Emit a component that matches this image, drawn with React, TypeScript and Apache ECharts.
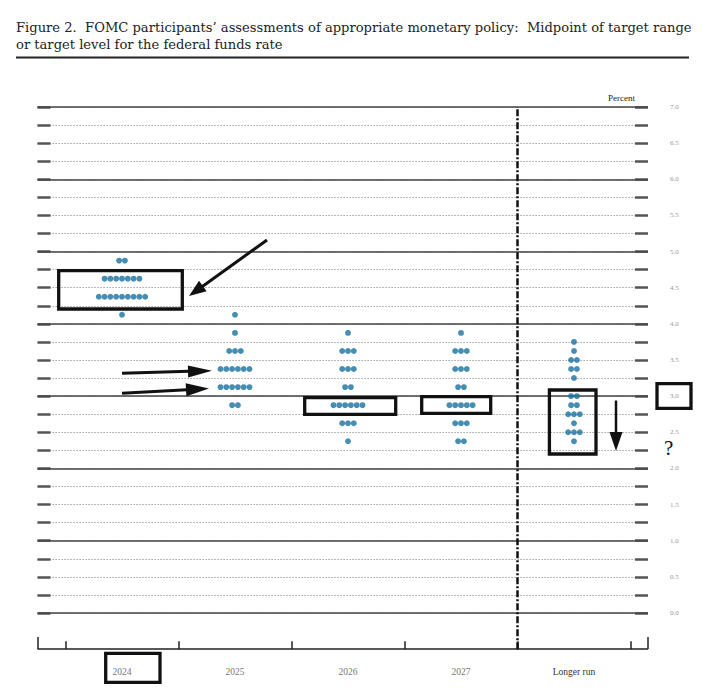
import React, { useEffect, useRef } from 'react';
import * as echarts from 'echarts';

// ---------- data ----------
const categories = ['2024', '2025', '2026', '2027', 'Longer run'];

const rates2024 = [4.875, 4.625, 4.375, 4.125];
const counts2024 = [2, 7, 9, 1];

const rates2025 = [4.125, 3.875, 3.625, 3.375, 3.125, 2.875];
const counts2025 = [1, 1, 3, 6, 6, 2];

const rates2026 = [3.875, 3.625, 3.375, 3.125, 2.875, 2.625, 2.375];
const counts2026 = [1, 3, 3, 2, 6, 3, 1];

const rates2027 = [3.875, 3.625, 3.375, 3.125, 2.875, 2.625, 2.375];
const counts2027 = [1, 3, 3, 2, 5, 3, 2];

const ratesLonger = [3.75, 3.625, 3.5, 3.375, 3.25, 3.0, 2.875, 2.75, 2.625, 2.5, 2.375];
const countsLonger = [1, 1, 2, 2, 1, 2, 2, 3, 1, 3, 1];

const yMin = 0;
const yMax = 7;

const titleLine1 = 'Figure 2.  FOMC participants\u2019 assessments of appropriate monetary policy:  Midpoint of target range';
const titleLine2 = 'or target level for the federal funds rate';

// ---------- styling ----------
const DOT_GAP = 5.8;
const DOT_SIZE = 5.9;
const DOT_COLOR = '#16719f';
const SERIF = '"Liberation Serif", "DejaVu Serif", serif';
const TITLE_FONT = '"DejaVu Serif", "Liberation Serif", serif';

const columns = [
  { rates: rates2024, counts: counts2024 },
  { rates: rates2025, counts: counts2025 },
  { rates: rates2026, counts: counts2026 },
  { rates: rates2027, counts: counts2027 },
  { rates: ratesLonger, counts: countsLonger },
];

function buildDots() {
  const out: any[] = [];
  columns.forEach((col, ci) => {
    col.rates.forEach((r, ri) => {
      const n = col.counts[ri];
      for (let k = 0; k < n; k++) {
        out.push({ value: [ci, r], symbolOffset: [(k - (n - 1) / 2) * DOT_GAP, 0] });
      }
    });
  });
  return out;
}

function rectEl(x: number, y: number, w: number, h: number, lw = 3.3) {
  return {
    type: 'rect',
    shape: { x, y, width: w, height: h },
    style: { fill: 'none', stroke: '#111', lineWidth: lw },
    z: 100,
  };
}

function arrowEls(x1: number, y1: number, x2: number, y2: number, headLen: number, headHalf: number, lw: number) {
  const dx = x2 - x1;
  const dy = y2 - y1;
  const L = Math.sqrt(dx * dx + dy * dy);
  const ux = dx / L;
  const uy = dy / L;
  const bx = x2 - ux * headLen;
  const by = y2 - uy * headLen;
  const px = -uy * headHalf;
  const py = ux * headHalf;
  return [
    {
      type: 'line',
      shape: { x1, y1, x2: bx + ux * 1, y2: by + uy * 1 },
      style: { stroke: '#111', lineWidth: lw },
      z: 100,
    },
    {
      type: 'polygon',
      shape: { points: [[x2, y2], [bx + px, by + py], [bx - px, by - py]] },
      style: { fill: '#111' },
      z: 100,
    },
  ];
}

export default function App() {
  const ref = useRef<HTMLDivElement>(null);

  useEffect(() => {
    document.body.style.margin = '0';
    if (!ref.current) return;
    const chart = echarts.init(ref.current, undefined, { renderer: 'svg' });

    const option: any = {
      animation: false,
      backgroundColor: '#ffffff',
      grid: [
        { left: 37.5, right: 55, top: 107, bottom: 79 },
        { left: 65.5, right: 72.5, top: 107, bottom: 42.86 },
        { left: 38, right: 55.5, top: 107, bottom: 43 },
      ],
      xAxis: [
        { gridIndex: 0, type: 'value', min: 0, max: 1, show: false },
        {
          gridIndex: 1,
          type: 'category',
          position: 'bottom',
          data: categories,
          boundaryGap: true,
          axisLine: { show: false, onZero: false },
          axisTick: { show: true, inside: true, length: 8, lineStyle: { color: '#222', width: 1.5 } },
          axisLabel: {
            margin: 18,
            fontFamily: SERIF,
            fontSize: 9.5,
            color: '#777',
            formatter: (v: string) => (v === 'Longer run' ? '{lr|' + v + '}' : v),
            rich: { lr: { fontFamily: SERIF, fontSize: 9.5, color: '#333' } },
          },
          splitLine: { show: false },
        },
        {
          gridIndex: 2,
          type: 'value',
          min: 0,
          max: 1,
          interval: 1,
          axisLine: { show: true, onZero: false, lineStyle: { color: '#222', width: 1.5 } },
          axisTick: { show: true, inside: true, length: 12, lineStyle: { color: '#222', width: 1.5 } },
          axisLabel: { show: false },
          splitLine: { show: false },
        },
        {
          gridIndex: 1,
          type: 'value',
          min: -0.5,
          max: categories.length - 0.5,
          show: false,
          axisLine: { onZero: false },
        },
      ],
      yAxis: [
        {
          gridIndex: 0,
          type: 'value',
          position: 'left',
          min: yMin,
          max: yMax,
          interval: 0.25,
          axisLine: { show: false },
          axisTick: { show: true, inside: true, length: 13, lineStyle: { color: '#555', width: 2.5 } },
          axisLabel: { show: false },
          splitLine: { show: true, lineStyle: { color: '#8c8c8c', width: 1, type: [1.2, 1.8] } },
        },
        {
          gridIndex: 0,
          type: 'value',
          position: 'left',
          min: yMin,
          max: yMax,
          interval: 1,
          axisLine: { show: false },
          axisTick: { show: false },
          axisLabel: { show: false },
          splitLine: { show: true, lineStyle: { color: '#444', width: 1.6, type: 'solid' } },
          z: 1,
        },
        {
          gridIndex: 0,
          type: 'value',
          position: 'right',
          min: yMin,
          max: yMax,
          interval: 0.25,
          axisLine: { show: false },
          axisTick: { show: true, inside: true, length: 13, lineStyle: { color: '#555', width: 2.5 } },
          axisLabel: {
            margin: 22,
            fontFamily: SERIF,
            fontSize: 7,
            color: '#999',
            formatter: (v: number) =>
              Math.abs(v * 2 - Math.round(v * 2)) < 1e-6 ? v.toFixed(1) : '',
          },
          splitLine: { show: false },
        },
        { gridIndex: 1, type: 'value', min: -0.5, max: yMax, show: false },
        { gridIndex: 2, type: 'value', min: 0, max: 1, show: false },
      ],
      series: [
        {
          type: 'scatter',
          xAxisIndex: 3,
          yAxisIndex: 3,
          symbol: 'circle',
          symbolSize: DOT_SIZE,
          itemStyle: { color: DOT_COLOR },
          data: buildDots(),
          z: 10,
          markLine: {
            silent: true,
            symbol: ['none', 'none'],
            label: { show: false },
            lineStyle: { color: '#111', width: 2.5, type: [7, 2, 2, 2] },
            data: [{ xAxis: categories.length - 1.5 }],
          },
        },
      ],
      graphic: [
        {
          type: 'text',
          x: 16,
          y: 27,
          style: { text: titleLine1, font: '13.1px ' + TITLE_FONT, fill: '#222', verticalAlign: 'middle' },
        },
        {
          type: 'text',
          x: 16,
          y: 44,
          style: { text: titleLine2, font: '13.1px ' + TITLE_FONT, fill: '#222', verticalAlign: 'middle' },
        },
        {
          type: 'line',
          shape: { x1: 16, y1: 57.5, x2: 689, y2: 57.5 },
          style: { stroke: '#222', lineWidth: 2 },
        },
        {
          type: 'text',
          x: 608,
          y: 98,
          style: { text: 'Percent', font: '9px ' + SERIF, fill: '#222', verticalAlign: 'middle' },
        },
        // annotation boxes
        rectEl(58.7, 270.7, 123.6, 38.3),
        rectEl(304.7, 397.7, 91, 16.6),
        rectEl(421.7, 396.7, 69, 16.6),
        rectEl(549.4, 390, 46.6, 64),
        rectEl(657, 383.7, 34, 24.6),
        rectEl(105.7, 653.4, 54.3, 28.9),
        // arrows
        ...arrowEls(267, 240, 189, 296, 17, 6.5, 3),
        ...arrowEls(122, 373.3, 212, 370.7, 24, 6, 3),
        ...arrowEls(122, 393.3, 209, 388.6, 23, 6.5, 3),
        ...arrowEls(616, 400.5, 616, 451, 19, 6.5, 2.5),
        {
          type: 'text',
          x: 664,
          y: 448,
          style: { text: '?', font: '21px ' + SERIF, fill: '#111', verticalAlign: 'middle' },
          z: 100,
        },
      ],
    };

    chart.setOption(option);
    return () => chart.dispose();
  }, []);

  return (
    <div
      ref={ref}
      style={{ position: 'fixed', left: 0, top: 0, width: 703, height: 692, background: '#fff' }}
    />
  );
}
